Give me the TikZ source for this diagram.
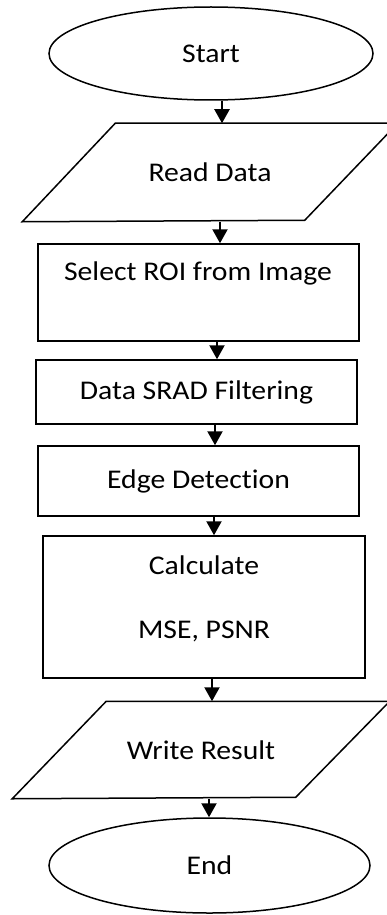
\documentclass[tikz,border=0pt]{standalone}
\usepackage{fontspec}
\setmainfont{Carlito}[FakeStretch=1.1, Ligatures=NoCommon]
\usetikzlibrary{shapes.geometric,arrows.meta}

\tikzset{
  base/.style={inner sep=0pt, font=\fontsize{27}{32}\selectfont, line width=1.5pt},
  term/.style={base, ellipse, draw},
  stepbox/.style={base, rectangle, draw},
  iobox/.style={base, rectangle},
  io/.style={line width=1.5pt},
  arr/.style={line width=2.2pt, -{Triangle[width=15pt,length=14pt]}},
}

\begin{document}
\begin{tikzpicture}[x=1pt,y=-1pt]
  \useasboundingbox[fill=white] (0,0) rectangle (386,915);

  % terminals
  \node[term, minimum width=324pt, minimum height=93pt] (start) at (211,53.5) {Start};
  \node[term, minimum width=321pt, minimum height=95pt] (end) at (209.5,865.5) {End};

  % input / output (parallelograms drawn round invisible frames)
  \node[iobox, minimum width=374pt, minimum height=97pt] (read) at (210,172.5) {Read Data};
  \draw[io] (read.north west) ++(93,0) -- (read.north east)
        -- ++(-93,97) -- (read.south west) -- cycle;
  \node[iobox, minimum width=376pt, minimum height=96pt] (write) at (201,750) {Write Result};
  \draw[io] (write.north west) ++(94,0) -- (write.north east)
        -- ++(-94,96) -- (write.south west) -- cycle;

  % processing steps
  \node[stepbox, minimum width=321pt, minimum height=97pt] (roi) at (198.5,292.5) {};
  \node[base, anchor=center] (roitxt) at (198,273) {Select ROI from Image};
  \node[stepbox, minimum width=321pt, minimum height=64pt] (srad) at (196.5,392) {Data SRAD Filtering};
  \node[stepbox, minimum width=321pt, minimum height=70pt] (edge) at (198.5,481) {Edge Detection};
  \node[stepbox, minimum width=322pt, minimum height=142pt] (calc) at (204,607) {};
  \node[base] (calc1) at (204,565) {Calculate};
  \node[base] (calc2) at (204,631) {MSE, PSNR};

  % connectors
  \draw[arr] (start.south -| 222,0) -- (read.north -| 222,0);
  \draw[arr] (read.south -| 220,0) -- (roi.north -| 220,0);
  \draw[arr] (roi.south -| 217,0) -- (srad.north -| 217,0);
  \draw[arr] (srad.south -| 215,0) -- (edge.north -| 215,0);
  \draw[arr] (edge.south -| 214,0) -- (calc.north -| 214,0);
  \draw[arr] (calc.south -| 212,0) -- (write.north -| 212,0);
  \draw[arr] (write.south -| 209,0) -- (end.north -| 209,0);
\end{tikzpicture}
\end{document}
